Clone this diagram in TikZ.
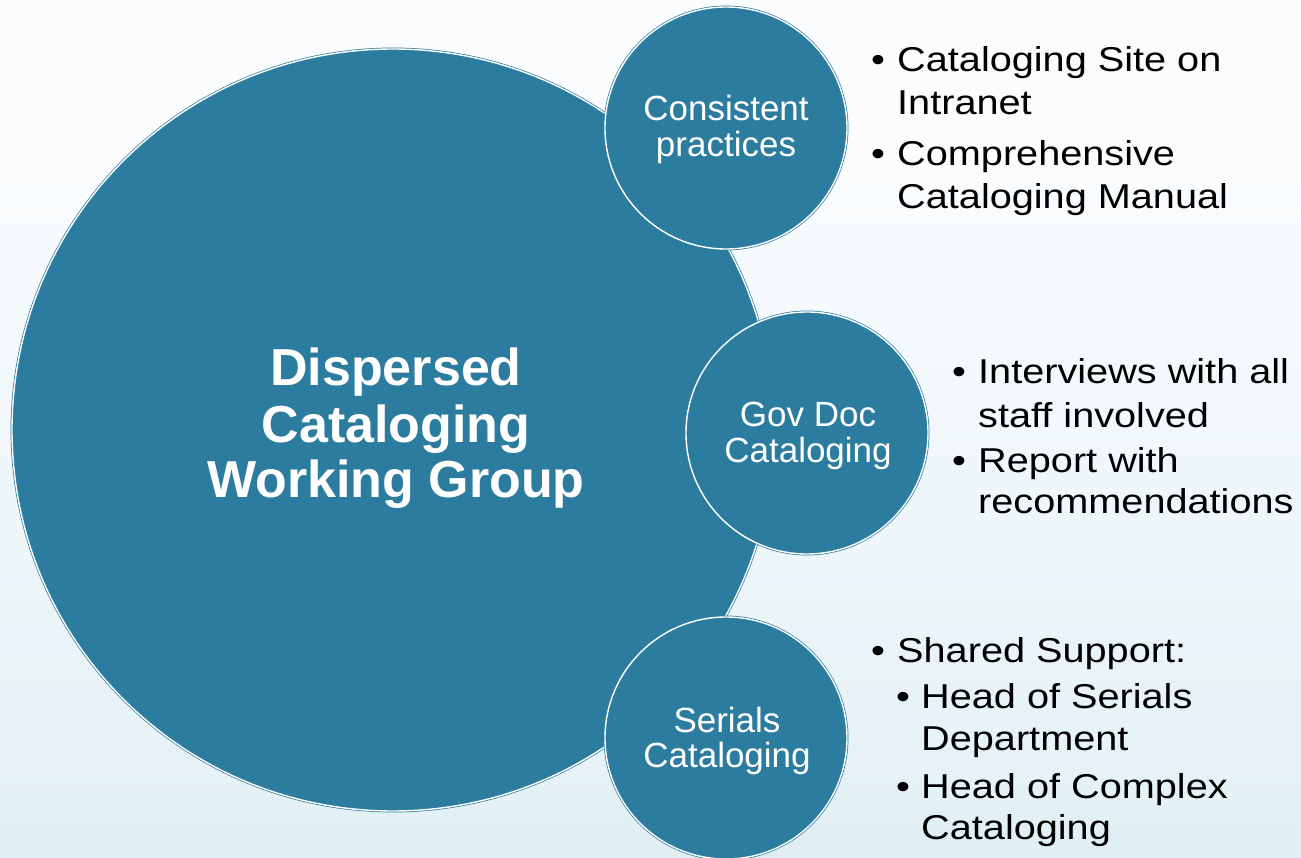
\documentclass[tikz,border=0pt]{standalone}
\usepackage{fontspec}
\setmainfont{Liberation Sans}
\newfontfamily\bulletfont[FakeStretch=1.15]{Liberation Sans}
\definecolor{circfill}{HTML}{2C7C9F}
\definecolor{bgtop}{HTML}{FAFCFE}
\definecolor{bgmid}{HTML}{E6F2F6}
\definecolor{bgbot}{HTML}{BCDAE3}
\pgfdeclareverticalshading{bgshade}{100bp}{color(0bp)=(bgbot); color(30bp)=(bgmid); color(65bp)=(bgtop); color(100bp)=(bgtop)}
\begin{document}
\begin{tikzpicture}[x=1pt,y=-1pt,
  bubble/.style={circle, fill=circfill, draw=circfill, double=white, double distance=1.4pt, line width=0.7pt, inner sep=0pt},
  bigtitle/.style={anchor=base, text=white, font=\bfseries\fontsize{52}{56}\selectfont, inner sep=0pt},
  circlabel/.style={anchor=base, text=white, font=\fontsize{35}{37}\selectfont, inner sep=0pt},
  bultext/.style={anchor=base west, text=black, font=\bulletfont\fontsize{34.5}{40}\selectfont, inner sep=0pt},
  bulmark/.style={anchor=base, text=black, font=\bulletfont\fontsize{34.5}{40}\selectfont, inner sep=0pt}]
\useasboundingbox (0,0) rectangle (1301,858);
\shade[shading=bgshade] (0,0) rectangle (1301,858);

% circles
\node[bubble, minimum size=762pt] (big) at (393,430) {};
\node[bubble, minimum size=242pt] (c1) at (726,128) {};
\node[bubble, minimum size=242pt] (c2) at (807,433) {};
\node[bubble, minimum size=242pt] (c3) at (726,738) {};

% title
\node[bigtitle] (t1) at (396,385) {Dispersed};
\node[bigtitle] (t2) at (396,442) {Cataloging};
\node[bigtitle] (t3) at (396,497) {Working Group};

% circle labels
\node[circlabel] (l1a) at (726,121) {Consistent};
\node[circlabel] (l1b) at (726,157) {practices};
\node[circlabel] (l2a) at (808,426) {Gov Doc};
\node[circlabel] (l2b) at (808,462) {Cataloging};
\node[circlabel] (l3a) at (727,732) {Serials};
\node[circlabel] (l3b) at (727,767) {Cataloging};

% group 1
\node[bulmark] (m1a) at (878,72) {•};
\node[bultext] (g1a) at (897,72) {Cataloging Site on};
\node[bultext] (g1b) at (897,115) {Intranet};
\node[bulmark] (m1b) at (878,166) {•};
\node[bultext] (g1c) at (897,166) {Comprehensive};
\node[bultext] (g1d) at (897,209) {Cataloging Manual};

% group 2
\node[bulmark] (m2a) at (959,384) {•};
\node[bultext] (g2a) at (978,384) {Interviews with all};
\node[bultext] (g2b) at (978,427) {staff involved};
\node[bulmark] (m2b) at (959,472) {•};
\node[bultext] (g2c) at (978,472) {Report with};
\node[bultext] (g2d) at (978,513) {recommendations};

% group 3
\node[bulmark] (m3a) at (878,662) {•};
\node[bultext] (g3a) at (897,662) {Shared Support:};
\node[bulmark] (m3b) at (903,708) {•};
\node[bultext] (g3b) at (921,708) {Head of Serials};
\node[bultext] (g3c) at (921,750) {Department};
\node[bulmark] (m3c) at (903,798) {•};
\node[bultext] (g3d) at (921,798) {Head of Complex};
\node[bultext] (g3e) at (921,839) {Cataloging};
\end{tikzpicture}
\end{document}
